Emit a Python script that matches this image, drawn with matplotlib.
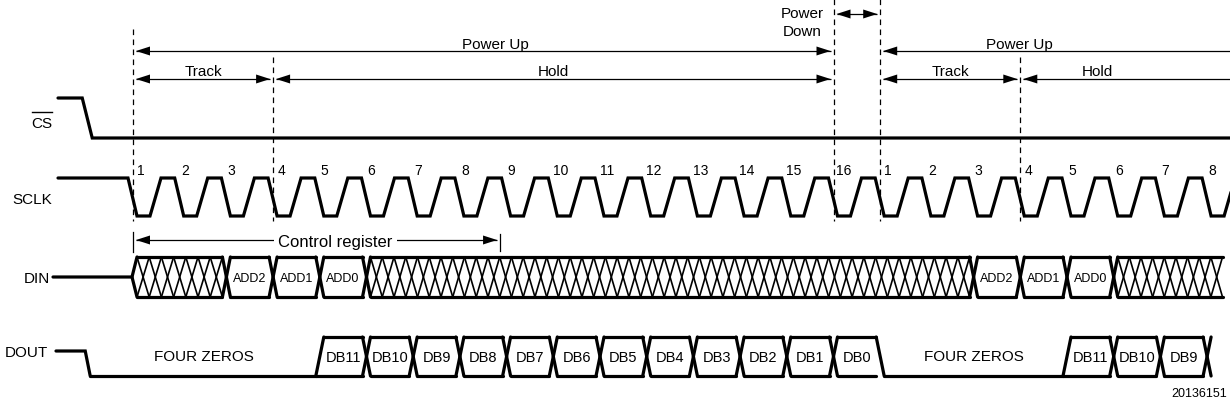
import matplotlib.pyplot as plt
from matplotlib.patches import Polygon

# timing in SCLK periods, counted from the first falling edge
clock_labels = ['1', '2', '3', '4', '5', '6', '7', '8', '9', '10', '11', '12',
                '13', '14', '15', '16', '1', '2', '3', '4', '5', '6', '7', '8']
cs_fall = -0.98
sclk_end = 23.37

din_labels = ['', 'ADD2', 'ADD1', 'ADD0', '', 'ADD2', 'ADD1', 'ADD0', '']
din_edges = [0, 2, 3, 4, 5, 18, 19, 20, 21, 23.33]

dout_labels = ['FOUR ZEROS', 'DB11', 'DB10', 'DB9', 'DB8', 'DB7', 'DB6', 'DB5',
               'DB4', 'DB3', 'DB2', 'DB1', 'DB0', 'FOUR ZEROS', 'DB11', 'DB10', 'DB9']
dout_edges = [-0.98, 4, 5, 6, 7, 8, 9, 10, 11, 12, 13, 14, 15, 16, 20, 21, 22, 23]

power_labels = ['Power Up', 'Power Up']
power_spans = [(0, 15), (16, 23.6)]
power_text_t = [7.75, 18.97]
phase_labels = ['Track', 'Hold', 'Track', 'Hold']
phase_spans = [(0, 3), (3, 15), (16, 19), (19, 23.6)]
phase_text_t = [1.5, 9.0, 17.5, 20.64]
power_down_span = (15, 16)
control_span = (0, 7.86)

X0, P = 133, 46.7          # pixel position of first falling edge, period
FONT = 'Liberation Sans'


def cx(t):
    return X0 + t * P


fig = plt.figure(figsize=(12.3, 4.1), dpi=100)
ax = fig.add_axes([0, 0, 1, 1])
ax.set_xlim(0, 1230)
ax.set_ylim(410, 0)
ax.axis('off')

TH = 2.3   # thick waveform
TN = 0.9   # thin annotation lines


def text(x, yc, s, size=11, ha='center', **kw):
    # place text so that its cap height is centred on yc
    ax.text(x, yc + 0.36 * size * 100 / 72, s, ha=ha, va='baseline',
            fontsize=size, family=FONT, **kw)


def line(xs, ys, lw=TH, **kw):
    ax.plot(xs, ys, color='k', lw=lw, solid_joinstyle='miter',
            solid_capstyle='round', **kw)


def head(tip, y, direction):
    L, w = 14, 4.5
    pts = [(tip, y), (tip - direction * L, y - w), (tip - direction * L, y + w)]
    ax.add_patch(Polygon(pts, closed=True, color='k', lw=0))


def harrow(x1, x2, y, left=True, right=True, gap=3):
    a = x1 + gap if left else x1
    b = x2 - gap if right else x2
    ax.plot([a, b], [y, y], color='k', lw=TN, solid_capstyle='butt')
    if left:
        head(a, y, -1)
    if right:
        head(b, y, 1)


# signal names
text(52, 122, 'CS', ha='right')
ax.plot([32, 52], [113, 113], color='k', lw=1.0)
text(52, 199, 'SCLK', ha='right')
text(50, 278, 'DIN', ha='right')
text(48, 352, 'DOUT', ha='right')

# dashed markers
for t, ytop in zip([0, 3, 15, 16, 19], [30, 58, 0, 0, 58]):
    ax.plot([cx(t), cx(t)], [ytop, 222], color='k', lw=TN,
            linestyle=(0, (4.5, 3.5)))

# CS
line([58, cx(cs_fall) - 5, cx(cs_fall) + 5, 1230], [99, 99, 139, 139])

# SCLK
hi, lo = 179, 217
xs, ys = [58], [hi]
for k in range(len(clock_labels)):
    e = cx(k)
    xs += [e - 5, e + 4]
    ys += [hi, lo]
    if cx(k) + 17 < cx(sclk_end):
        xs += [e + 17, e + 28]
        ys += [lo, hi]
    else:
        xs += [cx(sclk_end)]
        ys += [lo]
line(xs, ys)
for k, lab in enumerate(clock_labels):
    off = 8 if k in (0, 3, 15, 16, 19) else 5
    text(cx(k) + off + (2 if len(lab) == 2 else 0), 170, lab, size=10)

# DIN bus
top, bot, mid = 258, 298, 278
h = 4
line([53, cx(0) - 1, cx(0) + h], [mid, mid, top])
line([cx(0) - 1, cx(0) + h], [mid, bot])
ex = [cx(t) for t in din_edges]
for i, lab in enumerate(din_labels):
    a = ex[i] + h
    b = ex[i + 1] - h if i + 1 < len(din_labels) else ex[i + 1]
    line([a, b], [top, top])
    line([a, b], [bot, bot])
    if i > 0:
        line([ex[i] - h, ex[i] + h], [top, bot])
        line([ex[i] - h, ex[i] + h], [bot, top])
    if lab:
        text((ex[i] + ex[i + 1]) / 2, mid, lab, size=9)
    else:
        n = max(1, round((b - a) / (P / 4)))
        w = (b - a) / n
        for j in range(n):
            ax.plot([a + j * w, a + (j + 1) * w], [top, bot], color='k', lw=1.2)
            ax.plot([a + j * w, a + (j + 1) * w], [bot, top], color='k', lw=1.2)

# control register arrow
c1, c2 = cx(control_span[0]), cx(control_span[1])
harrow(c1, c2, 241)
ax.plot([c1, c1], [233, 253], color='k', lw=TN)
ax.plot([c2, c2], [235, 252], color='k', lw=TN)
text(cx(4.33), 241, 'Control register', size=12,
     bbox=dict(facecolor='white', edgecolor='none', pad=3))

# DOUT bus
dtop, dbot = 338, 377
f = cx(dout_edges[0])
line([56, f - 2, f + 3], [352, 352, dbot])
ex = [cx(t) for t in dout_edges]
low = [lab == 'FOUR ZEROS' for lab in dout_labels]
for i, lab in enumerate(dout_labels):
    a, b = ex[i], ex[i + 1]
    if low[i]:
        line([a + 3 if i == 0 else a + h, b - h], [dbot, dbot])
        text((a + b) / 2, 356, lab, size=11)
        continue
    prev_low = low[i - 1]
    last = i == len(dout_labels) - 1
    nxt_low = (not last) and low[i + 1]
    if prev_low:
        line([a - h, a + h], [dbot, dtop])
    else:
        line([a - h, a + h], [dtop, dbot])
        line([a - h, a + h], [dbot, dtop])
    line([a + h, b - h], [dtop, dtop])
    line([a - h if prev_low else a + h, b - h], [dbot, dbot])
    if nxt_low:
        line([b - h, b + h], [dtop, dbot])
    if last:
        line([b - h, b + h], [dtop, dbot])
        line([b - h, b + h], [dbot, dtop])
    text((a + b) / 2, 357, lab, size=10.5)

# power / phase annotations
for lab, (s, e), tt in zip(power_labels, power_spans, power_text_t):
    harrow(cx(s), min(cx(e), 1230), 52, right=cx(e) < 1230)
    text(cx(tt), 43, lab, size=11)
for lab, (s, e), tt in zip(phase_labels, phase_spans, phase_text_t):
    harrow(cx(s), min(cx(e), 1230), 80, right=cx(e) < 1230)
    text(cx(tt), 70, lab, size=11)
harrow(cx(power_down_span[0]), cx(power_down_span[1]), 15)
text(cx(14.33), 12.5, 'Power', size=11)
text(cx(14.33), 31, 'Down', size=11)

text(1227, 393, '20136151', size=9, ha='right')

fig.savefig('out.png', dpi=100)
